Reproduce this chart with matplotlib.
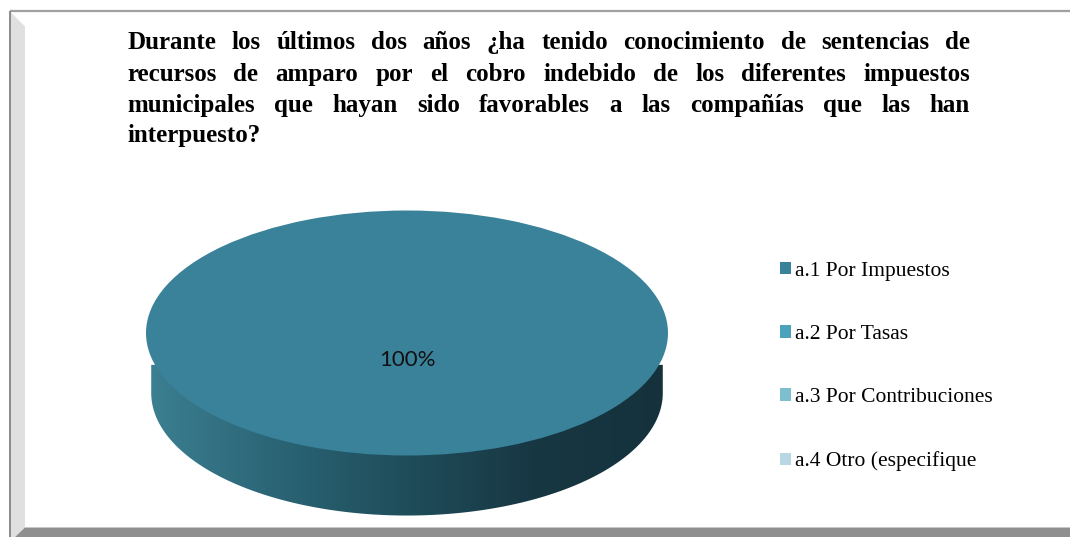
import numpy as np
import matplotlib
matplotlib.use("Agg")
import matplotlib.pyplot as plt
from matplotlib.patches import Polygon, PathPatch, Rectangle
from matplotlib.path import Path
from matplotlib.colors import LinearSegmentedColormap

# ---- data ----
title_lines = [
    "Durante los últimos dos años ¿ha tenido conocimiento de sentencias de",
    "recursos de amparo por el cobro indebido de los diferentes impuestos",
    "municipales que hayan sido favorables a las compañías que las han",
    "interpuesto?",
]
categories = ["a.1 Por Impuestos", "a.2 Por Tasas", "a.3 Por Contribuciones", "a.4 Otro (especifique"]
values = [100, 0, 0, 0]
colors = ["#39829a", "#4aa3bb", "#7dbecf", "#b7d8e2"]

W, H = 1070, 537
fig = plt.figure(figsize=(W / 100, H / 100), dpi=100)
fig.patch.set_facecolor("white")

# ---- frame (pixel coords) ----
fr = fig.add_axes([0, 0, 1, 1], zorder=0)
fr.set_xlim(0, W)
fr.set_ylim(H, 0)
fr.axis("off")
fr.add_patch(Polygon([(10, 11.5), (25, 26.5), (25, 527.5), (15, 537), (10, 537)],
                     closed=True, fc="#e0e0e0", ec="none"))
fr.add_patch(Polygon([(15, 537), (25, 527.5), (W, 527.5), (W, 537)],
                     closed=True, fc="#8f8f8f", ec="none"))
fr.plot([9.5, W], [11, 11], color="#a0a0a0", lw=1.6, solid_capstyle="butt")
fr.plot([9.8, 9.8], [11, H], color="#8a8a8a", lw=1.4, solid_capstyle="butt")

# ---- title, justified ----
renderer = fig.canvas.get_renderer()
tkw = dict(fontfamily="Liberation Serif", fontweight="bold", fontsize=18, color="black",
           va="baseline", ha="left", transform=fr.transData)
x0, x1 = 127, 970
baselines = [49.3, 80.7, 111.7, 142.3]
for li, (line, yb) in enumerate(zip(title_lines, baselines)):
    words = line.split(" ")
    if li == len(title_lines) - 1:
        fr.text(x0, yb, line, **tkw)
        continue
    texts = [fr.text(0, yb, w, **tkw) for w in words]
    widths = [t.get_window_extent(renderer).width for t in texts]
    gap = (x1 - x0 - sum(widths)) / (len(words) - 1)
    x = x0
    for t, w in zip(texts, widths):
        t.set_x(x)
        x += w + gap

# ---- pie (ellipse via non-equal aspect) ----
cx_px, cy_px, a_px, b_px = 407, 333, 261, 122.5
depth = 0.49
xl, xr = -1.1, 1.1
yb_, yt = -1.6, 1.1
left_px = cx_px + xl * a_px
width_px = (xr - xl) * a_px
top_px = cy_px - yt * b_px
height_px = (yt - yb_) * b_px
ax = fig.add_axes([left_px / W, (H - top_px - height_px) / H, width_px / W, height_px / H], zorder=1)
ax.patch.set_alpha(0)

wedges, _, autotexts = ax.pie(values, colors=colors, startangle=90, counterclock=False,
                              radius=1, center=(0, 0),
                              autopct=lambda p: f"{p:.0f}%" if p > 0 else "",
                              pctdistance=0.22,
                              wedgeprops=dict(linewidth=0, zorder=3),
                              textprops=dict(fontfamily="Lato", fontsize=16, color="#111111"))
for t in autotexts:
    t.set_zorder(5)
ax.set_aspect("auto")
ax.axis("off")

# side of the 3D disk with horizontal gradient
sa, sb = 0.98, 1.0
verts = [(-sa, -0.26), (sa, -0.26)] + [(sa * np.cos(t), -depth + sb * np.sin(t))
                                       for t in np.linspace(2 * np.pi, np.pi, 200)]
path = Path(verts + [verts[0]], closed=True)
side = PathPatch(path, fc="none", ec="none")
ax.add_patch(side)
cmap = LinearSegmentedColormap.from_list("side", ["#3b7f91", "#2a6475", "#1f4d5a", "#173743", "#15323c"])
grad = np.linspace(0, 1, 256).reshape(1, -1)
im = ax.imshow(grad, cmap=cmap, extent=(-sa, sa, -depth - sb, -0.2), aspect="auto", zorder=2,
               interpolation="bilinear")
im.set_clip_path(side)
ax.set_xlim(xl, xr)
ax.set_ylim(yb_, yt)

# ---- legend ----
handles = [Rectangle((0, 0), 1, 1, fc=c, ec="none") for c in colors]
fig.legend(handles, categories, loc="upper left", bbox_to_anchor=(780 / W, 1 - 262 / H),
           frameon=False, prop=dict(family="Liberation Serif", size=15.5),
           handlelength=0.5, handleheight=0.5, handletextpad=0.18,
           labelspacing=2.05, borderpad=0, borderaxespad=0)

fig.savefig("out.png", dpi=100)
